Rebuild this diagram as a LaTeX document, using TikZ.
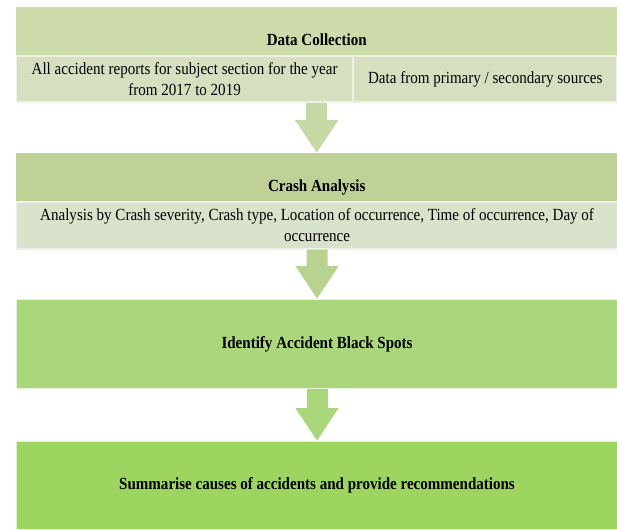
\documentclass[tikz,border=0pt]{standalone}
\usepackage{fontspec}
\setmainfont[FakeStretch=0.885]{Liberation Serif}
\usetikzlibrary{arrows.meta, positioning, calc}

\definecolor{headA}{HTML}{CDDBAA}
\definecolor{subA}{HTML}{D6E0C1}
\definecolor{arrowA}{HTML}{C6D8A3}
\definecolor{headB}{HTML}{BFD197}
\definecolor{subB}{HTML}{D9E2CB}
\definecolor{arrowB}{HTML}{B7D38F}
\definecolor{stepC}{HTML}{AAD77C}
\definecolor{stepD}{HTML}{9ED460}

\begin{document}
\begin{tikzpicture}[x=1pt, y=-1pt,
  box/.style={rectangle, inner sep=0pt, align=center, font=\fontsize{17}{21}\selectfont},
  head/.style={box, font=\fontsize{17}{21}\selectfont\bfseries, minimum width=601pt,
    text height=38pt, text depth=10pt, anchor=north west},
  sub/.style={box, draw=white!55!#1, line width=1.2pt, fill=#1, anchor=north west},
  stepbox/.style={box, font=\fontsize{17}{21}\selectfont\bfseries, draw=white!70!#1,
    line width=1pt, fill=#1, minimum width=601pt, anchor=north west},
  flow/.style={line width=21pt, -{Triangle[width=41pt,length=33pt]}}]
  \useasboundingbox (0,0) rectangle (617,529);

  % Data collection
  \node[head, fill=headA] (dchead) at (16,7) {Data Collection};
  \node[sub=subA, minimum width=336pt, minimum height=46pt] (dcreports) at (dchead.south west)
    {All accident reports for subject section for the year\\from 2017 to 2019};
  \node[sub=subA, minimum width=263pt, minimum height=46pt, anchor=north east] (dcsources) at (dchead.south east)
    {Data from primary / secondary sources};

  % Crash analysis
  \node[head, fill=headB] (cahead) at (16,153) {Crash Analysis};
  \node[sub=subB, minimum width=601pt, minimum height=47pt] (cadetail) at (cahead.south west)
    {Analysis by Crash severity, Crash type, Location of occurrence, Time of occurrence, Day of\\occurrence};

  % Black spots and summary
  \node[stepbox=stepC, minimum height=89pt] (blackspots) at (16,299) {Identify Accident Black Spots};
  \node[stepbox=stepD, minimum height=88pt] (summary) at (16,441)
    {Summarise causes of accidents and provide recommendations};

  % Block arrows
  \draw[flow, arrowA] (dchead.south |- dcreports.south) -- (cahead.north);
  \draw[flow, arrowB] (cadetail.south) -- (blackspots.north);
  \draw[flow, stepC] (blackspots.south) -- (summary.north);
\end{tikzpicture}
\end{document}
